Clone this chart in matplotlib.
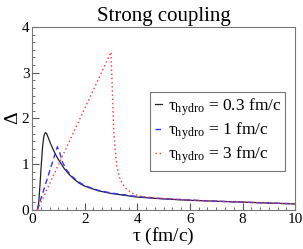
import matplotlib
matplotlib.use("Agg")
import matplotlib.pyplot as plt
from matplotlib.ticker import MultipleLocator

plt.rcParams["font.family"] = ["Liberation Serif", "DejaVu Serif"]
plt.rcParams["mathtext.fontset"] = "custom"
plt.rcParams["mathtext.rm"] = "Liberation Serif"
plt.rcParams["mathtext.it"] = "Liberation Serif"

# tau_hydro = 0.3 fm/c (black, solid)
tau_03 = [0.2, 0.25, 0.3, 0.35, 0.4, 0.45, 0.5, 0.55, 0.6, 0.7, 0.8, 0.9, 1.0,
          1.2, 1.4, 1.6, 1.8, 2.0, 2.5, 3.0, 3.5, 4.0, 5.0, 6.0, 7.0, 8.0, 9.0, 10.0]
delta_03 = [0.0, 0.15, 0.55, 1.0, 1.4, 1.62, 1.69, 1.67, 1.6, 1.45, 1.32, 1.2, 1.1,
            0.92, 0.78, 0.67, 0.58, 0.52, 0.42, 0.36, 0.32, 0.28, 0.24, 0.21, 0.19,
            0.17, 0.15, 0.13]

# tau_hydro = 1 fm/c (blue, dashed)
tau_1 = [0.2, 0.96, 1.05, 1.15, 1.3, 1.5, 1.75, 2.0, 2.5, 3.0, 4.0, 5.0, 6.0,
         7.0, 8.0, 9.0, 10.0]
delta_1 = [0.0, 1.38, 1.25, 1.05, 0.88, 0.74, 0.62, 0.53, 0.43, 0.37, 0.29, 0.245,
           0.215, 0.19, 0.17, 0.15, 0.135]

# tau_hydro = 3 fm/c (red, dotted)
tau_3 = [0.2, 3.0, 3.05, 3.1, 3.16, 3.22, 3.35, 3.54, 3.79, 4.04, 4.5, 5.0, 6.0,
         7.0, 8.0, 9.0, 10.0]
delta_3 = [0.0, 3.45, 2.6, 1.75, 1.31, 0.95, 0.66, 0.48, 0.37, 0.31, 0.27, 0.25,
           0.215, 0.19, 0.17, 0.15, 0.135]

fig = plt.figure(figsize=(3.03, 2.49), dpi=100)
ax = fig.add_axes([0.106, 0.157, 0.868, 0.735])

ax.plot(tau_03, delta_03, color="#222222", lw=0.9,
        label=r"$\tau_{\rm hydro}$ = 0.3 fm/c")
ax.plot(tau_1, delta_1, color="#3333ff", lw=1.0, ls=(0, (4, 2.5)),
        label=r"$\tau_{\rm hydro}$ = 1 fm/c")
ax.plot(tau_3, delta_3, color="#ff3333", lw=1.0, ls=(0, (1, 2)),
        label=r"$\tau_{\rm hydro}$ = 3 fm/c")

ax.set_xlim(0, 10)
ax.set_ylim(0, 4)
ax.xaxis.set_major_locator(MultipleLocator(2))
ax.xaxis.set_minor_locator(MultipleLocator(1 / 3))
ax.yaxis.set_major_locator(MultipleLocator(1))
ax.yaxis.set_minor_locator(MultipleLocator(1 / 6))
ax.tick_params(which="both", direction="in", top=False, right=False,
               color="#555555", labelsize=11, pad=2)
ax.tick_params(which="major", length=5)
ax.tick_params(which="minor", length=2.5)
for s in ax.spines.values():
    s.set_color("#777777")

ax.set_title("Strong coupling", fontsize=15, pad=4)
ax.set_xlabel(r"$\tau$ (fm/c)", fontsize=14, labelpad=0)
ax.set_ylabel(r"$\Delta$", fontsize=14, labelpad=0)

leg = ax.legend(loc="upper left", bbox_to_anchor=(0.449, 0.645), fontsize=12.5,
                handlelength=0.45, handletextpad=0.3, borderpad=0.25,
                labelspacing=0.15, frameon=True, fancybox=False,
                borderaxespad=0)
leg.get_frame().set_edgecolor("#555555")
leg.get_frame().set_linewidth(0.8)

fig.savefig("out.png", dpi=100)
